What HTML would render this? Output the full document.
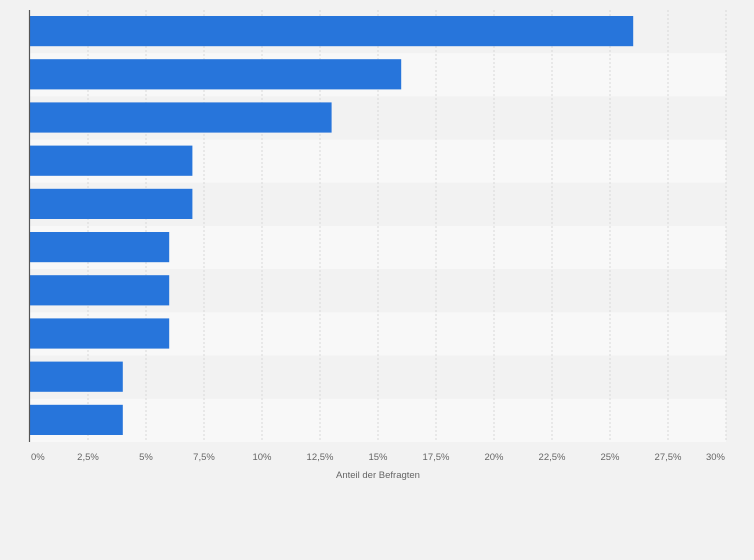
<!DOCTYPE html>
<html><head><meta charset="utf-8"><style>
html,body{margin:0;padding:0;background:#f2f2f2;}
svg{display:block;font-family:"Liberation Sans",sans-serif;}
</style></head><body>
<svg id="chart" width="754" height="560" xmlns="http://www.w3.org/2000/svg"></svg>
<script>
const categories = ["Kategorie 1","Kategorie 2","Kategorie 3","Kategorie 4","Kategorie 5","Kategorie 6","Kategorie 7","Kategorie 8","Kategorie 9","Kategorie 10"];
const values = [26,16,13,7,7,6,6,6,4,4];
const tickValues = [0,2.5,5,7.5,10,12.5,15,17.5,20,22.5,25,27.5,30];
const tickLabels = ["0%","2,5%","5%","7,5%","10%","12,5%","15%","17,5%","20%","22,5%","25%","27,5%","30%"];
const axisTitle = "Anteil der Befragten";

const NS="http://www.w3.org/2000/svg";
const svgEl=document.getElementById('chart');
const plotL=30,plotR=726,plotT=10,plotB=442;
const xMax=30;
const xs=v=>plotL+(v/xMax)*(plotR-plotL);
const rowH=(plotB-plotT)/categories.length;
const ys=i=>plotT+i*rowH;
function mk(tag,attrs){const e=document.createElementNS(NS,tag);for(const k in attrs)e.setAttribute(k,attrs[k]);svgEl.appendChild(e);return e;}

categories.forEach((c,i)=>{
  const r=mk('rect',{x:plotL,y:ys(i),width:plotR-plotL,height:rowH,fill:i%2?'#f8f8f8':'#f2f2f2'});
  
  
});
tickValues.forEach((t,i)=>{
  if(i===0)return;
  const l=mk('line',{x1:xs(t),x2:xs(t),y1:plotT,y2:plotB,stroke:'#d8d8d8','stroke-dasharray':'2,2','stroke-width':1});
  
  
});
values.forEach((v,i)=>{
  const b=mk('rect',{x:plotL,y:ys(i)+6,width:xs(v)-plotL,height:rowH-13,fill:'#2775db'});
  
  
});
const ax=mk('line',{x1:plotL-0.5,x2:plotL-0.5,y1:plotT,y2:plotB,stroke:'#555','stroke-width':1.2});


tickValues.forEach((t,i)=>{
  let anchor='middle',tx=xs(t);
  if(i===0){anchor='start';tx=xs(t)+1;}
  if(i===tickValues.length-1){anchor='end';tx=xs(t)-1;}
  const e=mk('text',{x:tx,y:460,'font-size':9.5,fill:'#666','text-anchor':anchor});
  e.textContent=tickLabels[i];
  
  
});
const at=mk('text',{x:378,y:478,'font-size':9.5,fill:'#666','text-anchor':'middle'});
at.textContent=axisTitle;


</script>
</body></html>
